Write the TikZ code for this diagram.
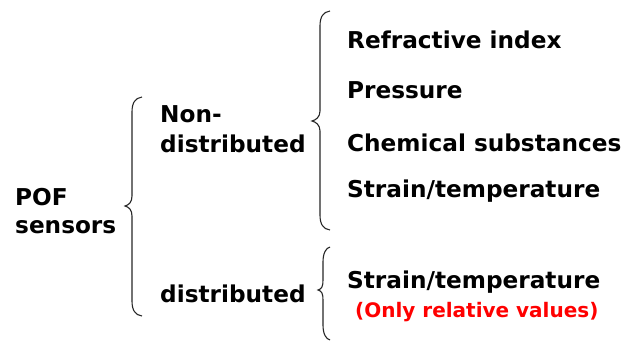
\documentclass[tikz,border=0pt]{standalone}
\usepackage{fontspec}
\setmainfont{DejaVu Sans}
\begin{document}
\begin{tikzpicture}[x=1pt,y=-1pt,
  lbl/.style={anchor=base west,inner sep=0pt,font=\fontsize{23.2}{27}\selectfont\bfseries},
  note/.style={anchor=base west,inner sep=0pt,text=red,font=\fontsize{20}{24}\selectfont\bfseries},
  brace/.style={line width=1.1pt,black!85}]
\useasboundingbox (0,0) rectangle (625,343);
\newcommand\pofbrace[6]{%
  \draw[brace] (#6,#2) .. controls ({#1+3},{#2+1}) and (#1,{#2+6}) .. (#1,{#2+15})
    -- (#1,{#4-10}) .. controls (#1,{#4-4}) and ({#3+4},{#4-1}) .. (#3,#4)
    .. controls ({#3+4},{#4+1}) and (#1,{#4+4}) .. (#1,{#4+10})
    -- (#1,{#5-15}) .. controls (#1,{#5-6}) and ({#1+3},{#5-1}) .. (#6,#5);}
\node[lbl] (pof) at (15,205) {POF};
\node[lbl] (sens) at (15,233) {sensors};
\node[lbl] (non) at (160,122) {Non-};
\node[lbl] (nond) at (160,152) {distributed};
\node[lbl] (dist) at (160,302) {distributed};
\node[lbl] (ri) at (347,48) {Refractive index};
\node[lbl] (pr) at (347,98) {Pressure};
\node[lbl] (ch) at (347,151) {Chemical substances};
\node[lbl] (st1) at (347,197) {Strain/temperature};
\node[lbl] (st2) at (347,288) {Strain/temperature};
\node[note] (rel) at (355,317) {(Only relative values)};
\pofbrace{132}{97}{125}{206}{316}{142}
\pofbrace{320}{11}{312}{121}{230}{330}
\pofbrace{323}{247}{318}{290}{340}{330}
\end{tikzpicture}
\end{document}
